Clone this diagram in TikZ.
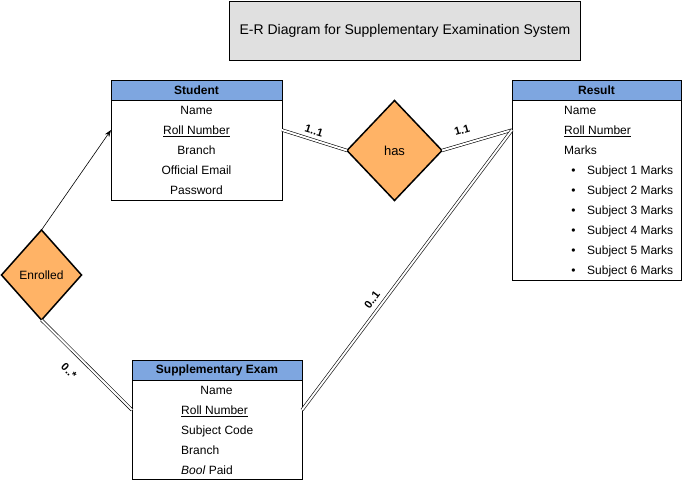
\documentclass[tikz,border=0pt]{standalone}
\usepackage{fontspec}
\setmainfont{Liberation Sans}
\usetikzlibrary{shapes.geometric,arrows.meta,calc}
\definecolor{hdr}{HTML}{7EA6E0}
\definecolor{relc}{HTML}{FFB366}
\definecolor{ttl}{HTML}{E0E0E0}
\begin{document}
\begin{tikzpicture}[x=1pt,y=-1pt,
  entity/.style={draw, line width=0.8pt, fill=white, anchor=north west, inner sep=0, outer sep=0},
  hdrbox/.style={draw, line width=0.8pt, fill=hdr, anchor=north west, inner sep=0, outer sep=0, minimum height=20pt, font=\fontsize{12}{14}\selectfont\bfseries},
  attr/.style={font=\fontsize{12}{14}\selectfont, inner sep=0, text height=10.9pt, text depth=2.5pt},
  relbox/.style={diamond, draw, line width=1.5pt, fill=relc, inner sep=0, outer sep=0, font=\fontsize{12}{14}\selectfont},
  dbl/.style={double, double distance=2pt, line width=0.6pt},
  card/.style={font=\fontsize{11}{13}\selectfont\bfseries, inner sep=0}
]
\useasboundingbox (0,0) rectangle (682,481);

% Title
\node[draw, fill=ttl, line width=0.8pt, minimum width=351pt, minimum height=59pt, anchor=north west, inner sep=0,
      font=\fontsize{14}{16}\selectfont] (title) at (229,1) {E-R Diagram for Supplementary Examination System};

% Student
\node[entity, minimum width=171pt, minimum height=120pt] (student) at (111,80) {};
\node[hdrbox, minimum width=171pt] (studentH) at (111,80) {Student};
\node[attr] (stName) at (196.5,110) {Name};
\node[attr] (stRoll) at (196.5,130) {\underline{Roll Number}};
\node[attr] (stBranch) at (196.5,150) {Branch};
\node[attr] (stMail) at (196.5,170) {Official Email};
\node[attr] (stPass) at (196.5,190) {Password};

% Result
\node[entity, minimum width=169pt, minimum height=200pt] (result) at (512,80) {};
\node[hdrbox, minimum width=169pt] (resultH) at (512,80) {Result};
\node[attr, anchor=west] (rsName) at (564,110) {Name};
\node[attr, anchor=west] (rsRoll) at (564,130) {\underline{Roll Number}};
\node[attr, anchor=west] (rsMarks) at (564,150) {Marks};
\foreach \i in {1,...,6}{
  \node[attr] (rsB\i) at (573.5,150+20*\i) {•};
  \node[attr, anchor=west] (rsS\i) at (587,150+20*\i) {Subject \i\ Marks};
}

% Supplementary Exam
\node[entity, minimum width=170pt, minimum height=119pt] (supp) at (132,360) {};
\node[hdrbox, minimum width=170pt] (suppH) at (132,360) {Supplementary Exam};
\node[attr] (spName) at (216.5,390) {Name};
\node[attr, anchor=west] (spRoll) at (181,410) {\underline{Roll Number}};
\node[attr, anchor=west] (spCode) at (181,430) {Subject Code};
\node[attr, anchor=west] (spBranch) at (181,450) {Branch};
\node[attr, anchor=west] (spPaid) at (181,470) {\textit{Bool} Paid};

% Relationships
\node[relbox, minimum width=95pt, minimum height=100pt, font=\fontsize{13}{15}\selectfont] (has) at (394.5,150.5) {has};
\node[relbox, minimum width=80pt, minimum height=90pt] (enrolled) at (41.5,275) {Enrolled};

% Connectors
\draw[dbl] (student.east |- stRoll) -- (has.west);
\draw[dbl] (has.east) -- (result.west |- rsRoll);
\draw[dbl] (supp.east |- spRoll) -- (result.west |- rsRoll);
\draw[dbl] (enrolled.south) -- (supp.west |- spRoll);
\draw[line width=0.6pt, -{Stealth[length=7pt,width=5pt]}] (enrolled.north) -- (student.west |- stRoll);

% Cardinalities
\node[card, rotate=-17] (c1) at (314,131) {1..1};
\node[card, rotate=16] (c2) at (462,130) {1.1};
\node[card, rotate=53] (c3) at (372,300) {0..1};
\node[card, rotate=-45] (c4) at (69,371) {0..*};
\end{tikzpicture}
\end{document}
